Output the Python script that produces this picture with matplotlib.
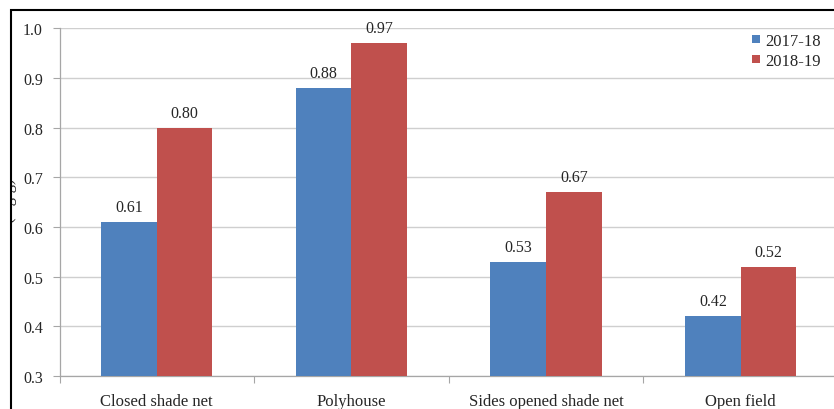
import matplotlib
matplotlib.use("Agg")
import matplotlib.pyplot as plt
from matplotlib.patches import Rectangle
import numpy as np

categories = ["Closed shade net", "Polyhouse", "Sides opened shade net", "Open field"]
series_names = ["2017-18", "2018-19"]
values_2017 = [0.61, 0.88, 0.53, 0.42]
values_2018 = [0.80, 0.97, 0.67, 0.52]
y_ticks = [0.3, 0.4, 0.5, 0.6, 0.7, 0.8, 0.9, 1.0]

colors = ["#4F81BD", "#C0504D"]
text_color = "#262626"
font = "Liberation Serif"

W, H = 834, 410
fig = plt.figure(figsize=(W / 100, H / 100), dpi=100)
fig.patch.set_facecolor("white")

# plot area (extends slightly past the right edge of the canvas)
left_px, right_px, top_px, bottom_px = 59.5, 838.0, 29.3, 377.0
ax = fig.add_axes([left_px / W, 1 - bottom_px / H,
                   (right_px - left_px) / W, (bottom_px - top_px) / H])

x = np.arange(len(categories))
bw = 1 / 3.5
bars1 = ax.bar(x - bw / 2, values_2017, bw, color=colors[0], label=series_names[0], zorder=3)
bars2 = ax.bar(x + bw / 2, values_2018, bw, color=colors[1], label=series_names[1], zorder=3)

for bars, vals in ((bars1, values_2017), (bars2, values_2018)):
    for b, v in zip(bars, vals):
        ax.annotate(f"{v:.2f}", (b.get_x() + b.get_width() / 2, v),
                    xytext=(0, 5), textcoords="offset points",
                    ha="center", va="bottom", fontsize=11.5,
                    family=font, color=text_color)

ax.set_ylim(0.3, 1.0)
ax.set_xlim(-0.5, len(categories) - 0.5)
ax.set_yticks(y_ticks)
ax.set_yticklabels([f"{t:.1f}" for t in y_ticks], family=font, fontsize=11.5, color=text_color)
ax.set_xticks(x)
ax.set_xticklabels(categories, family=font, fontsize=12, color=text_color)
ax.set_xticks(np.arange(-0.5, len(categories) + 0.5, 1), minor=True)

ax.tick_params(axis="x", which="major", length=0, pad=12)
ax.tick_params(axis="x", which="minor", length=5, color="#A6A6A6", width=0.8)
ax.tick_params(axis="y", which="major", length=5, color="#A6A6A6", width=0.8, pad=7)

ax.yaxis.grid(True, color="#CFCFCF", linewidth=1.0, zorder=0)
ax.set_axisbelow(True)
for s in ("top", "right"):
    ax.spines[s].set_visible(False)
for s in ("left", "bottom"):
    ax.spines[s].set_color("#A6A6A6")
    ax.spines[s].set_linewidth(0.9)

leg = fig.legend(loc="upper left", bbox_to_anchor=(752 / W, 1 - 34 / H),
                 bbox_transform=fig.transFigure, frameon=False,
                 prop={"family": font, "size": 12}, handlelength=0.48, handleheight=0.32,
                 handletextpad=0.3, labelspacing=0.25, borderpad=0, borderaxespad=0)
for t in leg.get_texts():
    t.set_color(text_color)

# axis title, partly hidden behind the outer frame
fig.text(8 / W, 1 - 200 / H, "(mg/g)", rotation=90, ha="center", va="center",
         family=font, fontsize=12, color=text_color, zorder=5)
fig.patches.append(Rectangle((0, 0), 10 / W, 1, transform=fig.transFigure,
                             facecolor="white", edgecolor="none", zorder=8))

# outer frame
fig.patches.append(Rectangle((10.5 / W, -0.1), 1.2, 1 - 11 / H + 0.1,
                             transform=fig.transFigure, facecolor="none",
                             edgecolor="black", linewidth=1.5, zorder=9))

fig.savefig("out.png", dpi=100)
